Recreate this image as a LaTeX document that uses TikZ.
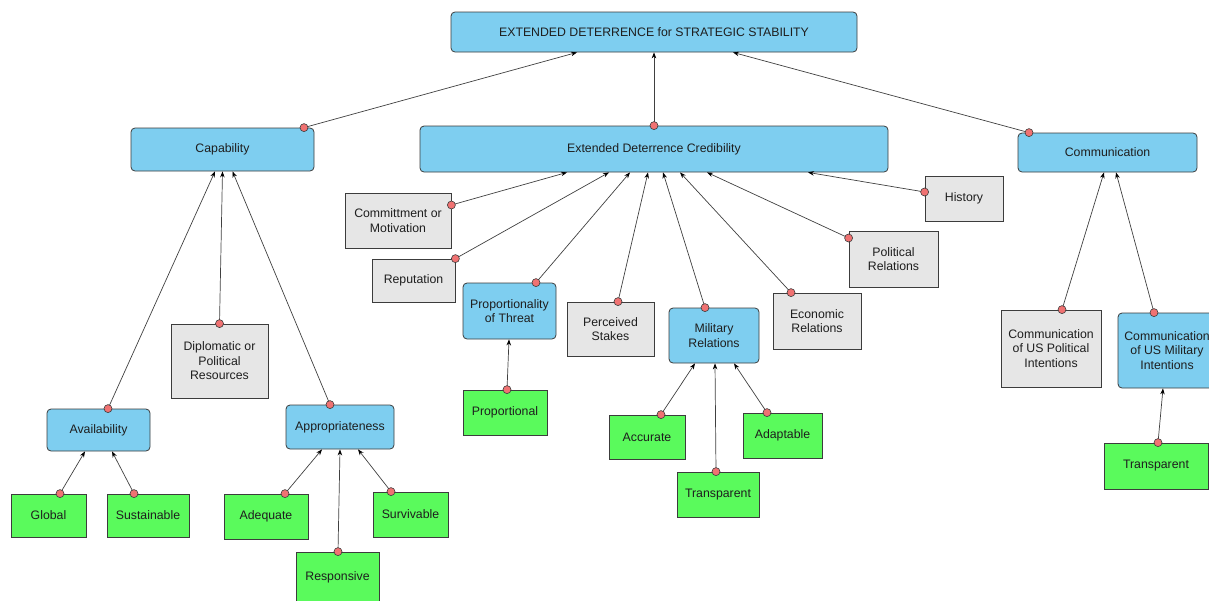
\documentclass[tikz,border=0pt]{standalone}
\usepackage{fontspec}
\setmainfont{Liberation Sans}
\usetikzlibrary{arrows.meta}
\definecolor{boxblue}{RGB}{126,206,240}
\definecolor{boxgreen}{RGB}{90,250,92}
\definecolor{boxgray}{RGB}{230,230,230}
\definecolor{dotred}{RGB}{240,114,114}
\definecolor{edge}{RGB}{60,60,60}
\definecolor{txt}{RGB}{30,30,30}
\tikzset{
  base/.style={draw=edge, line width=0.8pt, inner sep=0pt, align=center, text=txt,
    font=\fontsize{12.3}{14.5}\selectfont},
  bluebox/.style={base, fill=boxblue, rounded corners=4pt},
  graybox/.style={base, fill=boxgray},
  greenbox/.style={base, fill=boxgreen},
  sz/.style 2 args={minimum width=#1pt, minimum height=#2pt},
  conn/.style={draw=black!75, line width=0.7pt, -{Stealth[length=6pt,width=4.5pt,black]}},
  dot/.style={circle, minimum size=8pt, inner sep=0pt, fill=dotred, draw=edge, line width=0.6pt},
}
\begin{document}
\begin{tikzpicture}[x=1pt,y=-1pt]
\useasboundingbox (0,0) rectangle (1209,600);
\clip (0,0) rectangle (1209,600);
% nodes
\node[bluebox, sz={406}{40}] (top) at (654,32) {EXTENDED DETERRENCE for STRATEGIC STABILITY};
\node[bluebox, sz={183}{43}] (cap) at (222.5,149.5) {Capability};
\node[bluebox, sz={468}{46}] (edc) at (654,149) {Extended Deterrence Credibility};
\node[bluebox, sz={179}{39}] (comm) at (1107.5,152.5) {Communication};
\node[graybox, sz={106}{55}] (commit) at (398,220.5) {Committment or\\Motivation};
\node[graybox, sz={78}{45}] (hist) at (964,198.5) {History};
\node[graybox, sz={83}{43}] (rep) at (413.5,280.5) {Reputation};
\node[graybox, sz={89}{56}] (pol) at (893.5,259) {Political\\Relations};
\node[bluebox, sz={93}{56}] (prop) at (509.5,311) {Proportionality\\of Threat};
\node[graybox, sz={87}{54}] (stakes) at (610.5,329) {Perceived\\Stakes};
\node[bluebox, sz={90}{55}] (mil) at (714,335.5) {Military\\Relations};
\node[graybox, sz={88}{56}] (econ) at (817,321) {Economic\\Relations};
\node[graybox, sz={97}{74}] (dipl) at (219.5,361) {Diplomatic or\\Political\\Resources};
\node[bluebox, sz={103}{42}] (avail) at (98.5,430) {Availability};
\node[bluebox, sz={108}{44}] (approp) at (340,427) {Appropriateness};
\node[greenbox, sz={75}{43}] (global) at (48.5,515.5) {Global};
\node[greenbox, sz={82}{43}] (sust) at (148,515.5) {Sustainable};
\node[greenbox, sz={84}{45}] (adeq) at (266,516.5) {Adequate};
\node[greenbox, sz={75}{45}] (surv) at (410.5,514.5) {Survivable};
\node[greenbox, sz={83}{50}] (resp) at (337.5,577) {Responsive};
\node[greenbox, sz={84}{45}] (proptl) at (505,412.5) {Proportional};
\node[greenbox, sz={76}{44}] (acc) at (647,437) {Accurate};
\node[greenbox, sz={82}{45}] (transm) at (718,494.5) {Transparent};
\node[greenbox, sz={79}{45}] (adapt) at (782.5,435.5) {Adaptable};
\node[graybox, sz={100}{77}] (cuspol) at (1051,348.5) {Communication\\of US Political\\Intentions};
\node[bluebox, sz={98}{75}] (cusmil) at (1167,350.5) {Communication\\of US Military\\Intentions};
\node[greenbox, sz={104}{46}] (transc) at (1156,466) {Transparent};
% connectors
\draw[conn] ([xshift=81.5pt]cap.north) -- ([xshift=-77pt]top.south) node[pos=0,dot]{};
\draw[conn] (edc.north) -- (top.south) node[pos=0,dot]{};
\draw[conn] ([xshift=-78.5pt]comm.north) -- ([xshift=79pt]top.south) node[pos=0,dot]{};
\draw[conn] ([yshift=15.5pt]commit.east) -- ([xshift=-87pt]edc.south) node[pos=0,dot]{};
\draw[conn] (rep.north east) -- ([xshift=-45pt]edc.south) node[pos=0,dot]{};
\draw[conn] ([xshift=26.5pt]prop.north) -- ([xshift=-24pt]edc.south) node[pos=0,dot]{};
\draw[conn] ([xshift=7.5pt]stakes.north) -- ([xshift=-6pt]edc.south) node[pos=0,dot]{};
\draw[conn] ([xshift=-9pt]mil.north) -- ([xshift=9pt]edc.south) node[pos=0,dot]{};
\draw[conn] ([xshift=-26pt]econ.north) -- ([xshift=26pt]edc.south) node[pos=0,dot]{};
\draw[conn] ([yshift=21pt]pol.west) -- ([xshift=53pt]edc.south) node[pos=0,dot]{};
\draw[conn] ([yshift=6.5pt]hist.west) -- ([xshift=154pt]edc.south) node[pos=0,dot]{};
\draw[conn] ([xshift=9.5pt]avail.north) -- ([xshift=-7.5pt]cap.south) node[pos=0,dot]{};
\draw[conn] (dipl.north) -- (cap.south) node[pos=0,dot]{};
\draw[conn] ([xshift=-10pt]approp.north) -- ([xshift=10pt]cap.south) node[pos=0,dot]{};
\draw[conn] ([xshift=11.5pt]global.north) -- ([xshift=-13.5pt]avail.south) node[pos=0,dot]{};
\draw[conn] ([xshift=-14pt]sust.north) -- ([xshift=13.5pt]avail.south) node[pos=0,dot]{};
\draw[conn] ([xshift=19pt]adeq.north) -- ([xshift=-18pt]approp.south) node[pos=0,dot]{};
\draw[conn] ([xshift=0.5pt]resp.north) -- (approp.south) node[pos=0,dot]{};
\draw[conn] ([xshift=-19.5pt]surv.north) -- ([xshift=18pt]approp.south) node[pos=0,dot]{};
\draw[conn] ([xshift=2pt]proptl.north) -- ([xshift=-0.5pt]prop.south) node[pos=0,dot]{};
\draw[conn] ([xshift=14pt]acc.north) -- ([xshift=-19pt]mil.south) node[pos=0,dot]{};
\draw[conn] ([xshift=-2pt]transm.north) -- ([xshift=1pt]mil.south) node[pos=0,dot]{};
\draw[conn] ([xshift=-15.5pt]adapt.north) -- ([xshift=20pt]mil.south) node[pos=0,dot]{};
\draw[conn] ([xshift=11pt]cuspol.north) -- ([xshift=-3.5pt]comm.south) node[pos=0,dot]{};
\draw[conn] ([xshift=-13pt]cusmil.north) -- ([xshift=8.5pt]comm.south) node[pos=0,dot]{};
\draw[conn] ([xshift=2pt]transc.north) -- ([xshift=-4pt]cusmil.south) node[pos=0,dot]{};
\end{tikzpicture}
\end{document}
